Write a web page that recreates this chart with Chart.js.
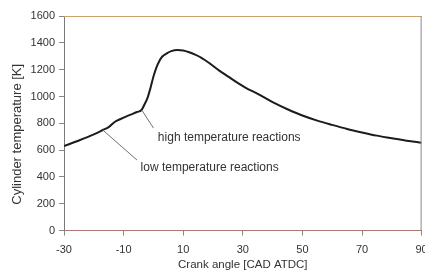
<!DOCTYPE html>
<html>
<head>
<meta charset="utf-8">
<script src="https://cdn.jsdelivr.net/npm/chart.js@4.4.1/dist/chart.umd.min.js"></script>
<style>
html,body{margin:0;padding:0;background:#fff;overflow:hidden;width:425px;height:273px;}
#wrap{width:436px;height:273px;}
</style>
</head>
<body>
<div id="wrap"><canvas id="c" width="436" height="273"></canvas></div>
<script>
const crankAngle = [-30,-25,-20,-17,-15,-13,-11,-9,-7,-5.5,-4,-3,-2,-1,0,1,2,3,4.5,6,8,10,12,14,16,19,22,25,28,31,35,40,45,50,55,60,65,70,75,80,85,90];
const cylinderTemp = [630,672,718,750,772,810,832,852,870,884,899,940,988,1062,1147,1215,1265,1298,1322,1338,1346,1343,1330,1312,1290,1245,1195,1150,1105,1065,1020,958,905,858,820,788,758,732,708,688,670,655];
const xTickLabels = ["-30","-10","10","30","50","70","90"];
const yTickLabels = ["0","200","400","600","800","1000","1200","1400","1600"];
const yTitle = "Cylinder temperature [K]";
const xTitle = "Crank angle [CAD ATDC]";
const annotationTexts = ["high temperature reactions","low temperature reactions"];
const annotationFrom = [[-3.9,899],[-17,750]];
const annotationTo = [[0,765],[-5.5,526]];
const annotationTextAt = [[1.5,694],[-4.3,467]];

const points = crankAngle.map((x,i)=>({x:x,y:cylinderTemp[i]}));

const annot = {
  id:'annot',
  afterDatasetsDraw(chart){
    const {ctx, chartArea:a, scales:{x,y}} = chart;
    ctx.save();
    // box top and right
    ctx.lineWidth = 1;
    ctx.strokeStyle = '#c9a46a';
    ctx.beginPath(); ctx.moveTo(a.left, a.top+0.5); ctx.lineTo(a.right, a.top+0.5); ctx.stroke();
    ctx.strokeStyle = '#8a8a8a';
    ctx.beginPath(); ctx.moveTo(a.right-0.5, a.top); ctx.lineTo(a.right-0.5, a.bottom); ctx.stroke();
    // annotations
    ctx.strokeStyle = '#707070';
    ctx.lineWidth = 1;
    annotationFrom.forEach((f,i)=>{
      const t = annotationTo[i];
      ctx.beginPath();
      ctx.moveTo(x.getPixelForValue(f[0]), y.getPixelForValue(f[1]));
      ctx.lineTo(x.getPixelForValue(t[0]), y.getPixelForValue(t[1]));
      ctx.stroke();
    });
    ctx.fillStyle = '#333';
    ctx.font = '12px "Liberation Sans", Arial, sans-serif';
    ctx.textBaseline = 'middle';
    ctx.textAlign = 'left';
    annotationTexts.forEach((s,i)=>{
      const p = annotationTextAt[i];
      ctx.fillText(s, x.getPixelForValue(p[0]), y.getPixelForValue(p[1]));
    });
    // y axis title
    ctx.save();
    ctx.translate(17, (a.top + a.bottom)/2 + 11);
    ctx.rotate(-Math.PI/2);
    ctx.textAlign = 'center';
    ctx.font = '13px "Liberation Sans", Arial, sans-serif';
    ctx.fillText(yTitle, 0, 0);
    ctx.restore();
    ctx.restore();
  }
};

new Chart(document.getElementById('c'), {
  type:'line',
  data:{datasets:[{
    data: points,
    borderColor:'#1c1c1c',
    borderWidth:2,
    pointRadius:0,
    fill:false,
    cubicInterpolationMode:'monotone'
  }]},
  options:{
    responsive:false,
    animation:false,
    layout:{padding:{left:0,right:14.4,top:16,bottom:0}},
    plugins:{legend:{display:false},tooltip:{enabled:false}},
    scales:{
      x:{
        type:'linear', min:-30, max:90,
        afterFit(s){ s.height = 42.4; },
        ticks:{stepSize:20, padding:8, color:'#333', font:{family:'"Liberation Sans", Arial', size:11},
          callback:(v)=>{const i=xTickLabels.indexOf(String(v)); return i>=0?xTickLabels[i]:'';}, maxRotation:0, autoSkip:false},
        grid:{drawOnChartArea:false, drawTicks:true, tickLength:5, color:'#888'},
        border:{display:true, color:'#b07a74', width:1},
        title:{display:true, text:xTitle, color:'#333', font:{family:'"Liberation Sans", Arial', size:11.5}, padding:{top:0,bottom:1}}
      },
      y:{
        min:0, max:1600,
        afterFit(s){ s.width = 64; },
        ticks:{stepSize:200, padding:4, color:'#333', font:{family:'"Liberation Sans", Arial', size:11},
          callback:(v)=>{const i=yTickLabels.indexOf(String(v)); return i>=0?yTickLabels[i]:'';}},
        grid:{drawOnChartArea:false, drawTicks:true, tickLength:5, color:'#888'},
        border:{display:true, color:'#7a7a7a', width:1},
        title:{display:false}
      }
    }
  },
  plugins:[annot]
});
</script>
</body>
</html>
